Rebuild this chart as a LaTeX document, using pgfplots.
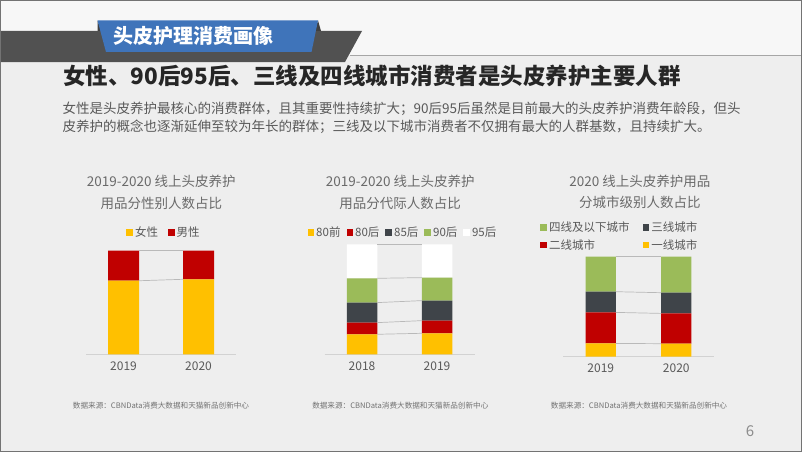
\documentclass[border=0pt]{standalone}
\usepackage{pgfplots}
\pgfplotsset{compat=1.18}
\usepackage{fontspec}
\setmainfont{Noto Sans CJK SC}
\definecolor{cyel}{HTML}{FFC000}
\definecolor{cred}{HTML}{C00000}
\definecolor{cdark}{HTML}{3F4449}
\definecolor{cgreen}{HTML}{9BBB59}
\definecolor{cblue}{HTML}{3F74BA}
\definecolor{cband}{HTML}{515151}
\definecolor{txt}{HTML}{595959}
\definecolor{bg}{HTML}{EEEEEE}
\newcommand{\fs}[1]{\fontsize{#1}{#1}\selectfont}

\pgfplotsset{
  stackbase/.style={
    scale only axis, width=150pt,
    xmin=-0.5, xmax=1.5, ymin=0, ymax=100,
    axis y line=none, axis x line*=bottom,
    x axis line style={-, draw=gray!35, line width=0.6pt},
    xtick={0,1}, major tick length=0pt,
    xticklabel style={font=\fs{12}, text=txt, yshift=-4pt},
    ybar stacked,
    legend style={draw=none, fill=none, font=\fs{11.5}, text=txt, anchor=center,
      nodes={inner xsep=2pt, inner ysep=1.5pt}},
    legend cell align=left,
    every axis plot post/.append style={
      legend image code/.code={\fill[##1] (0pt,-3.3pt) rectangle (6.7pt,3.3pt);}},
  },
  linesbase/.style={scale only axis, width=150pt, xmin=-0.5, xmax=1.5,
    ymin=0, ymax=100, hide axis},
  sl/.style={draw=gray!55, line width=0.7pt, no marks},
}

\begin{document}
\begin{tikzpicture}
\useasboundingbox (0,0) rectangle (802pt,-452pt);
% slide background and header
\fill[bg] (0,0) rectangle (802pt,-452pt);
\fill[white!55!bg] (0,0) rectangle (802pt,-55pt);
\fill[cband] (0,-31pt) -- (362pt,-31pt) -- (345pt,-62pt) -- (0,-62pt) -- cycle;
\draw[gray!70, line width=0.8pt] (350pt,-55pt) -- (802pt,-55pt);
\fill[black!75] (97.5pt,-20.5pt) -- (97.5pt,-31pt) -- (101pt,-31pt) -- cycle;
\fill[black!75] (318pt,-20.5pt) -- (321pt,-31pt) -- (315pt,-31pt) -- cycle;
\fill[cblue] (97.5pt,-20.5pt) -- (318pt,-20.5pt) -- (311.5pt,-52pt) -- (106pt,-52pt) -- cycle;
\node[text=white, font=\fs{20}\bfseries] at (193.5pt,-35.5pt) {头皮护理消费画像};
\node[anchor=west, text=black!85, font=\fs{22.5}\bfseries, inner sep=0pt] at (63pt,-75.5pt)
  {女性、90后95后、三线及四线城市消费者是头皮养护主要人群};
\node[anchor=west, text=txt, font=\fs{13.5}, inner sep=0pt] at (62.5pt,-109pt)
  {女性是头皮养护最核心的消费群体，且其重要性持续扩大；90后95后虽然是目前最大的头皮养护消费年龄段，但头};
\node[anchor=west, text=txt, font=\fs{13.5}, inner sep=0pt] at (62.5pt,-127pt)
  {皮养护的概念也逐渐延伸至较为年长的群体；三线及以下城市消费者不仅拥有最大的人群基数，且持续扩大。};

% chart 1: gender
\begin{axis}[stackbase, at={(86pt,-354.3pt)}, anchor=south west, height=103.6pt,
  bar width=31pt, xticklabels={2019,2020}, legend columns=2,
  legend style={at={(0.52,1.174)}, /tikz/every even column/.append style={column sep=8pt}}]
\addplot[fill=cyel, draw=none] coordinates {(0,71) (1,72.4)};
\addlegendentry{女性}
\addplot[fill=cred, draw=none] coordinates {(0,29) (1,27.6)};
\addlegendentry{男性}
\end{axis}
\begin{axis}[linesbase, at={(86pt,-354.3pt)}, anchor=south west, height=103.6pt]
\addplot[sl] coordinates {(0.2067,71) (0.7933,72.4)};
\addplot[sl] coordinates {(0.2067,100) (0.7933,100)};
\end{axis}
\node[text=txt!90, font=\fs{13.5}, align=center] at (161.3pt,-192.5pt)
  {2019-2020 线上头皮养护\\[8pt]用品分性别人数占比};
\node[text=txt!85, font=\fs{7.6}] at (161pt,-405.7pt) {数据来源：CBNData消费大数据和天猫新品创新中心};

% chart 2: generations
\begin{axis}[stackbase, at={(324.5pt,-354.3pt)}, anchor=south west, height=110pt,
  bar width=30.5pt, xticklabels={2018,2019}, legend columns=5,
  legend style={at={(0.523,1.105)}, /tikz/every even column/.append style={column sep=4pt}}]
\addplot[fill=cyel, draw=none] coordinates {(0,18.2) (1,19.1)};
\addlegendentry{80前}
\addplot[fill=cred, draw=none] coordinates {(0,10.6) (1,11.5)};
\addlegendentry{80后}
\addplot[fill=cdark, draw=none] coordinates {(0,18.2) (1,18.2)};
\addlegendentry{85后}
\addplot[fill=cgreen, draw=none] coordinates {(0,22.1) (1,20.9)};
\addlegendentry{90后}
\addplot[fill=white, draw=none] coordinates {(0,30.9) (1,30.3)};
\addlegendentry{95后}
\end{axis}
\begin{axis}[linesbase, at={(324.5pt,-354.3pt)}, anchor=south west, height=110pt]
\addplot[sl] coordinates {(0.2033,18.2) (0.7967,19.1)};
\addplot[sl] coordinates {(0.2033,28.8) (0.7967,30.6)};
\addplot[sl] coordinates {(0.2033,47.0) (0.7967,48.8)};
\addplot[sl] coordinates {(0.2033,69.1) (0.7967,69.7)};
\addplot[sl] coordinates {(0.2033,100) (0.7967,100)};
\end{axis}
\node[text=txt!90, font=\fs{13.5}, align=center] at (400.2pt,-192.5pt)
  {2019-2020 线上头皮养护\\[8pt]用品分代际人数占比};
\node[text=txt!85, font=\fs{7.6}] at (400.3pt,-405.7pt) {数据来源：CBNData消费大数据和天猫新品创新中心};

% chart 3: city tiers
\begin{axis}[stackbase, at={(563pt,-356.7pt)}, anchor=south west, height=100pt, width=151pt,
  bar width=30.3pt, xticklabels={2019,2020}, legend columns=2, reverse legend,
  legend style={at={(0.377,1.204)}, /tikz/every even column/.append style={column sep=11pt},
    /tikz/row sep=3pt}]
\addplot[fill=cyel, draw=none] coordinates {(0,13.3) (1,13)};
\addlegendentry{一线城市}
\addplot[fill=cred, draw=none] coordinates {(0,31) (1,30.3)};
\addlegendentry{二线城市}
\addplot[fill=cdark, draw=none] coordinates {(0,20.7) (1,20.7)};
\addlegendentry{三线城市}
\addplot[fill=cgreen, draw=none] coordinates {(0,35) (1,36)};
\addlegendentry{四线及以下城市}
\end{axis}
\begin{axis}[linesbase, at={(563pt,-356.7pt)}, anchor=south west, height=100pt, width=151pt]
\addplot[sl] coordinates {(0.2007,13.3) (0.7993,13)};
\addplot[sl] coordinates {(0.2007,44.3) (0.7993,43.3)};
\addplot[sl] coordinates {(0.2007,65) (0.7993,64)};
\addplot[sl] coordinates {(0.2007,100) (0.7993,100)};
\end{axis}
\node[text=txt!90, font=\fs{13.5}, align=center] at (639.8pt,-192pt)
  {2020 线上头皮养护用品\\[8pt]分城市级别人数占比};
\node[text=txt!85, font=\fs{7.6}] at (639pt,-405.7pt) {数据来源：CBNData消费大数据和天猫新品创新中心};

\node[text=gray!90, font=\fs{15}] at (750pt,-431pt) {6};
\draw[black!55, line width=1.3pt] (0.65pt,-0.65pt) rectangle (801.35pt,-451.35pt);
\end{tikzpicture}
\end{document}
